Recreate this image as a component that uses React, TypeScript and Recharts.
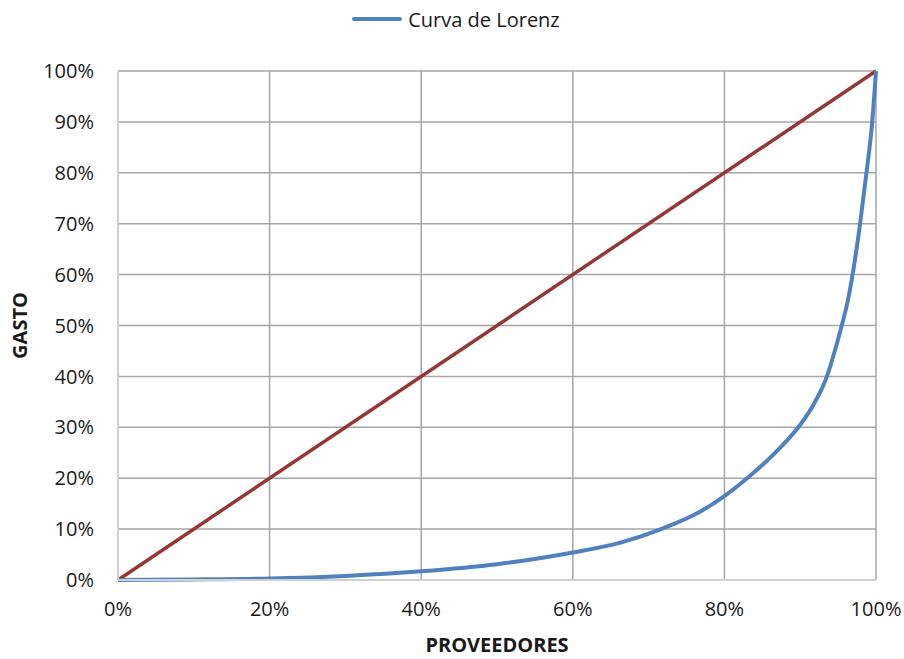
import { LineChart, Line, XAxis, YAxis, CartesianGrid, Legend } from "recharts";

// Lorenz curve points (x = share of suppliers, y = share of spending)
const proveedores = [0, 0.1, 0.2, 0.3, 0.4, 0.5, 0.6, 0.664, 0.72, 0.764, 0.8, 0.83, 0.856, 0.873, 0.9, 0.917, 0.935, 0.946, 0.955, 0.963, 0.968, 0.979, 0.987, 0.995, 1.0];
const gasto = [0, 0.001, 0.003, 0.008, 0.017, 0.031, 0.054, 0.074, 0.102, 0.131, 0.165, 0.2, 0.234, 0.259, 0.305, 0.343, 0.399, 0.452, 0.501, 0.55, 0.59, 0.7, 0.795, 0.9, 1.0];

// line of perfect equality
const igualdadX = [0, 1];
const igualdadY = [0, 1];

const xTicks = [0, 0.2, 0.4, 0.6, 0.8, 1];
const yTicks = [0, 0.1, 0.2, 0.3, 0.4, 0.5, 0.6, 0.7, 0.8, 0.9, 1];

const lorenz = proveedores.map((x, i) => ({ x, y: gasto[i] }));
const igualdad = igualdadX.map((x, i) => ({ x, y: igualdadY[i] }));

const FONT = "'Open Sans', sans-serif";
const pct = (v: number) => `${Math.round(v * 100)}%`;

function LorenzLegend() {
  return (
    <div style={{ display: "flex", justifyContent: "center", alignItems: "center", gap: 6, paddingLeft: 36, height: 30 }}>
      <div style={{ width: 50, height: 4, background: "#4f81bd", borderRadius: 2 }} />
      <span style={{ fontSize: 20, color: "#1a1a1a", fontFamily: FONT }}>Curva de Lorenz</span>
    </div>
  );
}

export default function App() {
  return (
    <div style={{ position: "absolute", left: 0, top: 0, background: "#fff" }}>
      <LineChart
        width={904}
        height={659}
        margin={{ top: 31, right: 28, bottom: 0, left: 0 }}
      >
        <CartesianGrid stroke="#a6a6a6" strokeWidth={1.5} />
        <Legend verticalAlign="top" height={40} wrapperStyle={{ top: 4 }} content={() => <LorenzLegend />} />
        <XAxis
          type="number"
          dataKey="x"
          domain={[0, 1]}
          ticks={xTicks}
          tickFormatter={pct}
          tickLine={false}
          axisLine={{ stroke: "#d0d0d0", strokeWidth: 2 }}
          tick={{ fontSize: 20, fill: "#1a1a1a", fontFamily: FONT }}
          tickMargin={16}
          height={79}
          label={{ value: "PROVEEDORES", position: "insideBottom", offset: 7, fontSize: 20, fontWeight: 700, fill: "#1a1a1a", fontFamily: FONT }}
        />
        <YAxis
          type="number"
          dataKey="y"
          domain={[0, 1]}
          ticks={yTicks}
          tickFormatter={pct}
          tickLine={false}
          axisLine={{ stroke: "#d0d0d0", strokeWidth: 2 }}
          tick={{ fontSize: 20, fill: "#1a1a1a", fontFamily: FONT }}
          tickMargin={18}
          width={118}
          label={{ value: "GASTO", angle: -90, position: "insideLeft", offset: 20, fontSize: 20, fontWeight: 700, fill: "#1a1a1a", fontFamily: FONT, style: { textAnchor: "middle" } }}
        />
        <Line
          data={igualdad}
          dataKey="y"
          type="linear"
          stroke="#953735"
          strokeWidth={3.5}
          dot={false}
          isAnimationActive={false}
          legendType="none"
        />
        <Line
          data={lorenz}
          dataKey="y"
          name="Curva de Lorenz"
          type="monotone"
          stroke="#4f81bd"
          strokeWidth={4}
          dot={false}
          isAnimationActive={false}
        />
      </LineChart>
    </div>
  );
}
